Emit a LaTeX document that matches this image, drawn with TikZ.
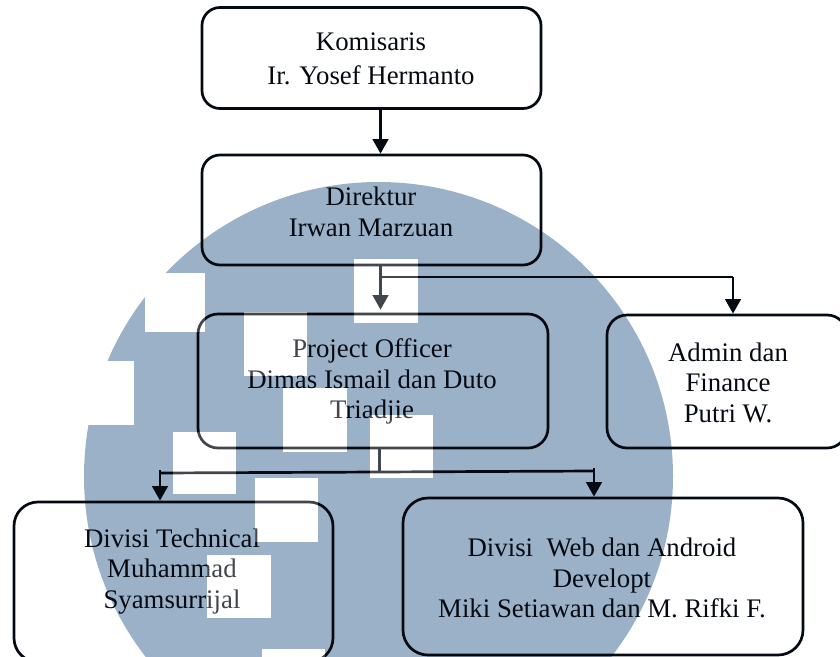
\documentclass[tikz,border=0pt]{standalone}
\usepackage{fontspec}
\setmainfont{Liberation Serif}
\usetikzlibrary{arrows.meta,calc}
\definecolor{wmblue}{HTML}{9BB1C8}
\definecolor{ink}{HTML}{050A12}
\tikzset{
  x=1pt,y=-1pt,
  orgbox/.style={draw=ink,line width=2.7pt,rounded corners=#1},
  orgbox/.default=20pt,
  lbl/.style={text=ink,align=center,inner sep=0pt,font=\fontsize{26.8}{30.6}\selectfont},
  conn/.style={draw=ink,line width=2.7pt},
  arr/.style={conn,-{Triangle[width=15.5pt,length=14.5pt]}},
}
\newcommand{\wmsquares}{%
  \fill (145,273) rectangle (205,332);
  \fill (70,361) rectangle (134,425);
  \fill (243.5,312) rectangle (307,376);
  \fill (354,259) rectangle (418,323);
  \fill (283,388) rectangle (347,452);
  \fill (370,415) rectangle (433,478);
  \fill (173,432) rectangle (236,494);
  \fill (255,478) rectangle (318,542);
  \fill (207,555) rectangle (271,618);
  \fill (262,649) rectangle (325,660);
}
\begin{document}
\begin{tikzpicture}
\useasboundingbox (0,0) rectangle (840,656);
\clip (0,0) rectangle (840,656);
% watermark
\fill[wmblue] (378.5,476.5) circle[radius=294.5];
\begin{scope}[white]
\wmsquares
\end{scope}
% boxes
\node[orgbox=18pt,minimum width=339pt,minimum height=101pt,inner sep=0pt] (kom) at (371.5,58) {};
\node[orgbox=18pt,minimum width=339pt,minimum height=110pt,inner sep=0pt] (dir) at (371.5,210) {};
\node[orgbox,minimum width=350pt,minimum height=134pt,inner sep=0pt] (pro) at (373,381) {};
\node[orgbox,minimum width=240pt,minimum height=133pt,inner sep=0pt] (adm) at (727,381.5) {};
\node[orgbox=24pt,minimum width=319pt,minimum height=160pt,inner sep=0pt] (tec) at (173.5,582) {};
\node[orgbox=25pt,minimum width=400pt,minimum height=157pt,inner sep=0pt] (web) at (603,576.5) {};
% labels
\node[lbl,font=\fontsize{26.8}{34}\selectfont] (tkom) at (371,58.5) {Komisaris\\Ir. Yosef Hermanto};
\node[lbl] (tdir) at (371,212) {Direktur\\Irwan Marzuan};
\node[lbl] (tpro) at (372,381.5) {Project Officer\\Dimas Ismail dan Duto\\Triadjie};
\node[lbl] (tadm) at (728,382.5) {Admin dan\\Finance\\Putri W.};
\node[lbl] (ttec) at (172,571.5) {Divisi Technical\\Muhammad\\Syamsurrijal};
\node[lbl] (tweb) at (602,578) {Divisi\ \ Web dan Android\\Developt\\Miki Setiawan dan M. Rifki F.};
% connectors
\coordinate (ja) at (380.5,277);
\coordinate (jb) at (733,277);
\coordinate (jc) at (379.5,472);
\coordinate (jl) at (160,473);
\coordinate (jr) at (594,471);
\draw[arr] (ja |- kom.south) -- (ja |- dir.north);
\draw[arr,shorten >=3pt] (ja |- dir.south) -- (ja |- pro.north);
\draw[conn] (ja) -- (jb);
\draw[arr] (jb) -- (jb |- adm.north);
\draw[conn] (pro.south -| jc) -- (jc);
\draw[conn] (jl) -- (jr);
\draw[arr] ($(jl)+(0,-3)$) -- (jl |- tec.north);
\draw[arr] ($(jr)+(0,-3)$) -- (jr |- web.north);
% pale overlay of the watermark squares
\begin{scope}[white,opacity=.25]
\wmsquares
\end{scope}
\end{tikzpicture}
\end{document}
